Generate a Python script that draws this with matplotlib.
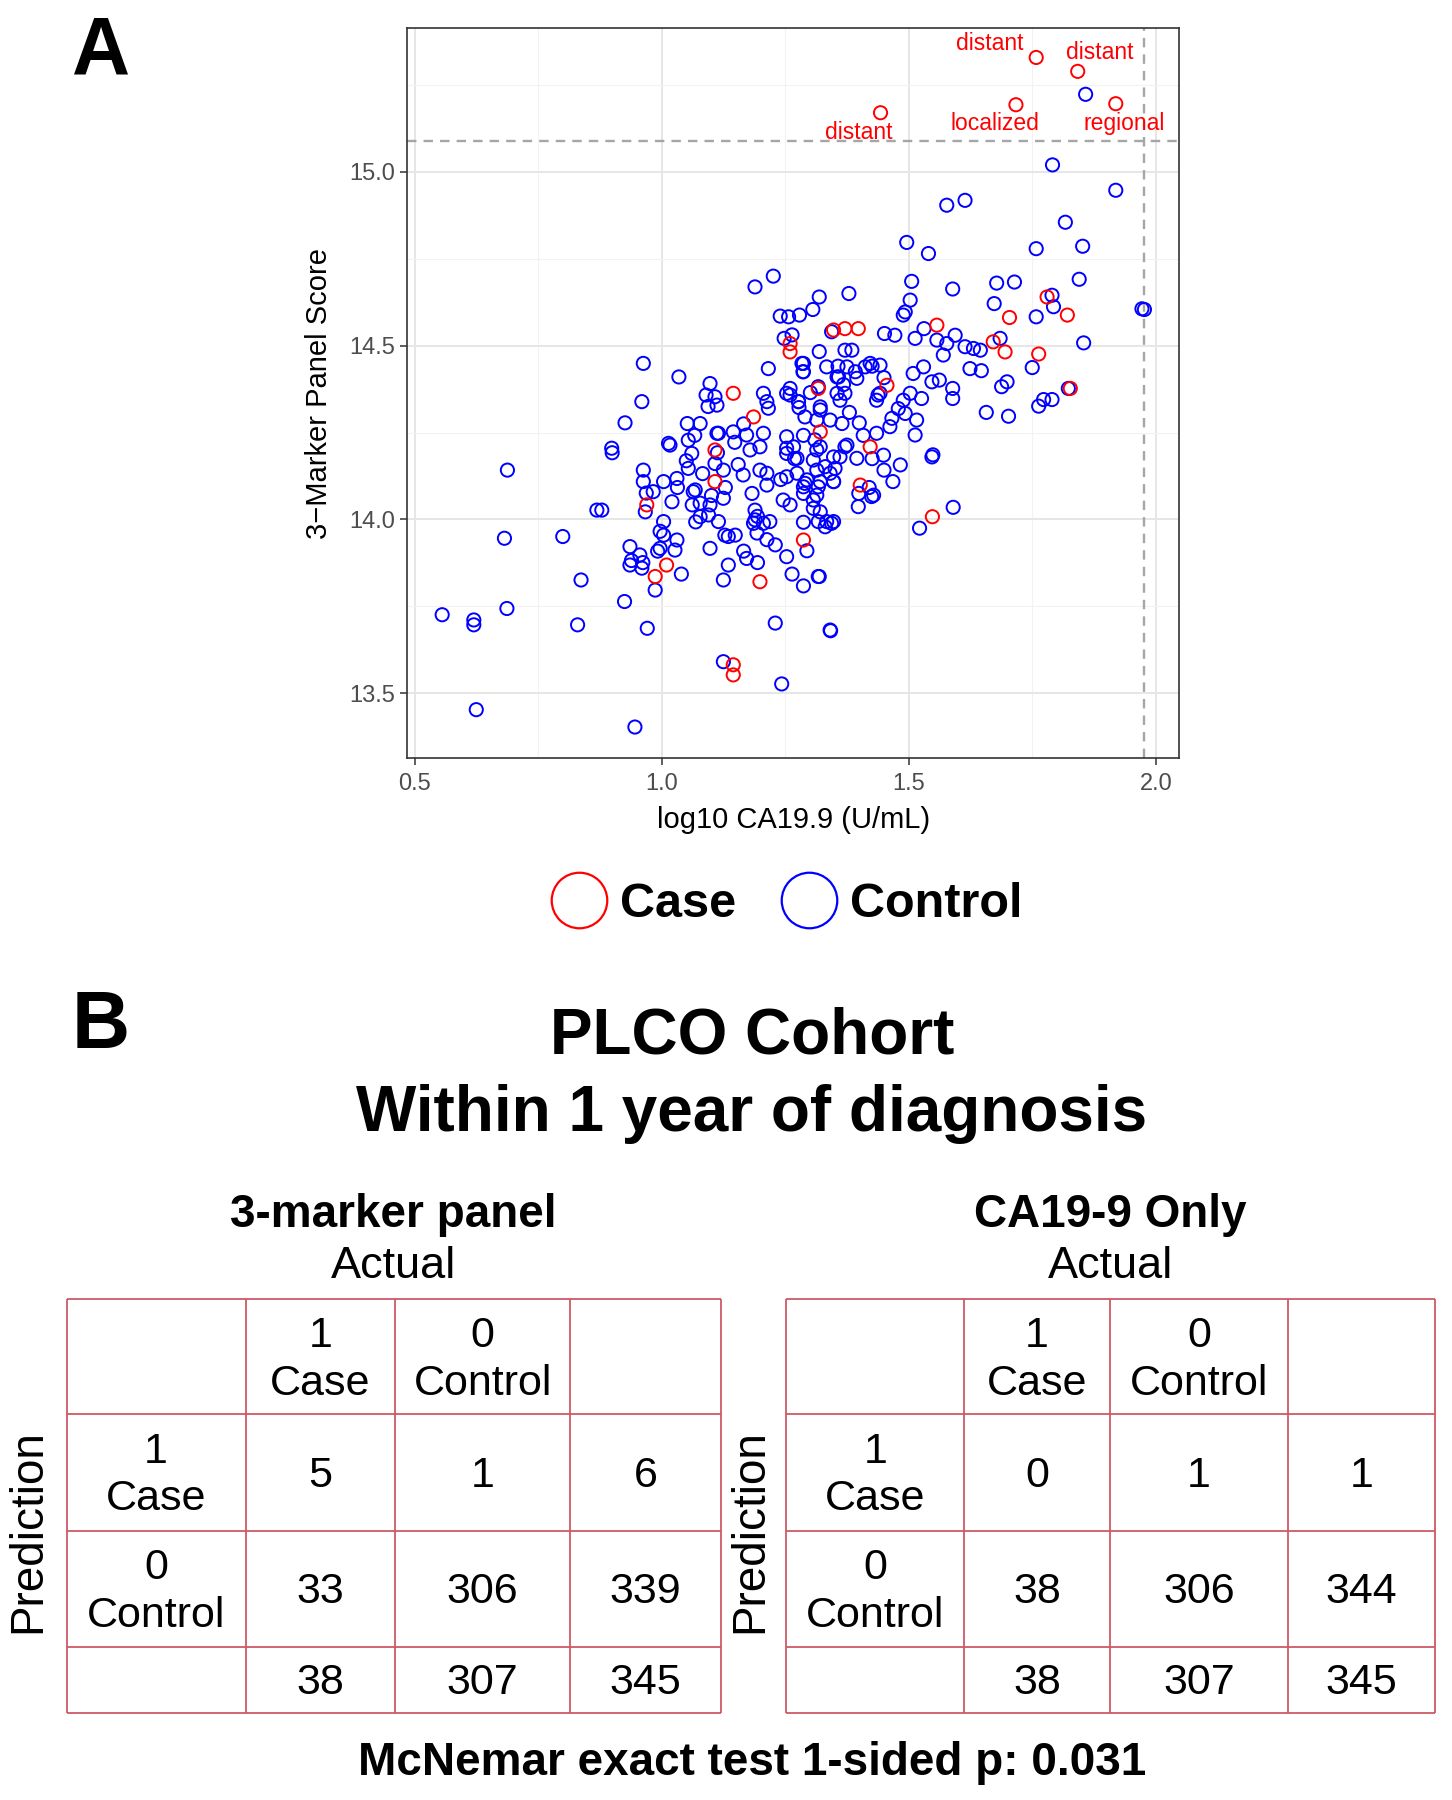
import numpy as np
import matplotlib.pyplot as plt
from matplotlib.lines import Line2D

plt.rcParams['font.family'] = ['Liberation Sans', 'DejaVu Sans']

# ---- panel A data (log10 CA19.9, 3-marker score) ----
case_x = [1.758, 1.842, 1.443, 1.717, 1.919, 1.780, 1.821, 1.704, 1.557, 1.371,
          1.398, 1.348, 1.260, 1.260, 1.671, 1.695, 1.763, 1.827, 1.317, 1.456,
          1.145, 1.186, 1.422, 1.321, 1.402, 1.108, 1.108, 0.970, 1.010, 0.987,
          1.199, 1.287, 1.548, 1.145, 1.145]
case_y = [15.329, 15.289, 15.170, 15.193, 15.196, 14.640, 14.588, 14.581, 14.559, 14.549,
          14.549, 14.545, 14.506, 14.482, 14.511, 14.482, 14.476, 14.377, 14.377, 14.386,
          14.363, 14.295, 14.209, 14.252, 14.099, 14.200, 14.109, 14.042, 13.869, 13.836,
          13.821, 13.941, 14.008, 13.582, 13.553]

ctrl_pts = [
    # upper / right
    (1.858, 15.223), (1.791, 15.020), (1.919, 14.947), (1.577, 14.904), (1.614, 14.918),
    (1.817, 14.855), (1.758, 14.779), (1.852, 14.786), (1.496, 14.797), (1.540, 14.765),
    (1.845, 14.691), (1.678, 14.680), (1.714, 14.683), (1.506, 14.685), (1.589, 14.663),
    (1.379, 14.650), (1.319, 14.640), (1.306, 14.604), (1.279, 14.588), (1.257, 14.583),
    (1.240, 14.585), (1.189, 14.669), (1.226, 14.700), (1.673, 14.621), (1.790, 14.645),
    (1.793, 14.612), (1.758, 14.583), (1.977, 14.604), (1.972, 14.606), (1.503, 14.631),
    (1.489, 14.588), (1.493, 14.597), (1.531, 14.549), (1.513, 14.521), (1.451, 14.535),
    (1.472, 14.530), (1.344, 14.540), (1.319, 14.483), (1.385, 14.487), (1.371, 14.487),
    (1.557, 14.516), (1.577, 14.506), (1.594, 14.530), (1.570, 14.473), (1.614, 14.497),
    (1.631, 14.492), (1.645, 14.487), (1.685, 14.521), (1.750, 14.437), (1.854, 14.508),
    (1.699, 14.396), (1.688, 14.382), (1.773, 14.345), (1.763, 14.326), (1.790, 14.345),
    (1.823, 14.377), (1.657, 14.308), (1.702, 14.297), (1.530, 14.439), (1.509, 14.420),
    (1.547, 14.396), (1.562, 14.401), (1.624, 14.434), (1.647, 14.428), (1.589, 14.377),
    (1.589, 14.348), (1.526, 14.348), (1.503, 14.363), (1.489, 14.343), (1.479, 14.319),
    (1.466, 14.291), (1.462, 14.267), (1.493, 14.305), (1.516, 14.286), (1.513, 14.243),
    (1.547, 14.180), (1.549, 14.186), (1.483, 14.157), (1.449, 14.185), (1.435, 14.248),
    (1.400, 14.278), (1.375, 14.214), (1.395, 14.176), (1.429, 14.070), (1.442, 14.363),
    (1.435, 14.343), (1.395, 14.406), (1.375, 14.439), (1.355, 14.410), (1.422, 14.449),
    (1.442, 14.444), (1.412, 14.439), (1.287, 14.449), (1.287, 14.425), (1.260, 14.358),
    (1.277, 14.339), (1.355, 14.363), (1.371, 14.363), (1.361, 14.343), (1.290, 14.295),
    (1.321, 14.315), (1.314, 14.286), (1.341, 14.286), (1.365, 14.276), (1.253, 14.238),
    (1.267, 14.209), (1.274, 14.176), (1.253, 14.190), (1.321, 14.209), (1.307, 14.171),
    (1.331, 14.152), (1.351, 14.147), (1.348, 14.180), (1.371, 14.209), (1.290, 14.104),
    (1.317, 14.094), (1.348, 14.109), (1.287, 14.075), (1.314, 14.070), (1.590, 14.035),
    (1.522, 13.975), (1.319, 13.836), (1.342, 13.680), (1.243, 13.527), (1.294, 13.910),
    (1.253, 13.893), (1.398, 14.037), (1.425, 14.066), (1.317, 13.994), (1.344, 13.989),
    (1.331, 13.979), (1.321, 14.022), (1.307, 14.056), (1.260, 14.042), (1.287, 14.094),
    (1.321, 14.109), (1.348, 14.109),
    # left / middle
    (0.556, 13.726), (0.620, 13.711), (0.620, 13.697), (0.625, 13.453), (0.688, 14.142),
    (0.682, 13.946), (0.687, 13.744), (0.800, 13.951), (0.837, 13.826), (0.830, 13.697),
    (0.869, 14.027), (0.900, 14.192), (0.925, 13.764), (0.946, 13.403), (0.971, 13.687),
    (0.926, 14.278), (0.963, 14.449), (0.960, 14.339), (1.035, 14.410), (1.098, 14.391),
    (1.108, 14.353), (1.112, 14.329), (1.216, 14.434), (1.206, 14.363), (1.213, 14.339),
    (1.216, 14.320), (1.253, 14.363), (1.277, 14.339), (1.260, 14.377), (1.284, 14.449),
    (1.286, 14.425), (1.052, 14.276), (1.078, 14.276), (1.014, 14.219), (1.054, 14.228),
    (0.899, 14.205), (0.879, 14.027), (0.963, 14.142), (0.963, 14.109), (0.983, 14.080),
    (1.004, 14.109), (1.031, 14.118), (1.054, 14.147), (0.967, 14.022), (1.021, 14.051),
    (1.004, 13.994), (1.004, 13.955), (1.031, 13.941), (1.027, 13.912), (0.997, 13.917),
    (0.936, 13.922), (0.956, 13.898), (0.936, 13.869), (0.960, 13.860), (0.987, 13.797),
    (1.061, 14.190), (1.017, 14.214), (1.068, 14.085), (1.078, 14.047), (1.078, 14.008),
    (1.108, 14.161), (1.098, 14.042), (1.125, 14.061), (1.095, 14.013), (1.115, 13.994),
    (1.128, 13.955), (1.149, 13.955), (1.098, 13.917), (1.135, 13.869), (1.125, 13.826),
    (1.172, 13.888), (1.189, 14.027), (1.189, 13.999), (1.219, 13.994), (1.193, 13.961),
    (1.206, 13.989), (1.186, 13.989), (1.230, 13.927), (1.317, 13.836), (1.230, 13.702),
    (1.341, 13.682), (1.125, 13.591), (1.064, 14.080), (1.135, 13.951),
    # dense core
    (1.165, 14.128), (1.213, 14.133), (1.213, 14.099), (1.179, 14.200), (1.199, 14.209),
    (1.246, 14.056), (1.253, 14.123), (1.274, 14.133), (1.294, 14.114), (1.314, 14.142),
    (1.341, 14.133), (1.334, 13.994), (1.348, 13.994), (1.307, 14.032), (1.253, 14.205),
    (1.314, 14.200), (1.361, 14.180), (1.067, 14.242), (1.050, 14.169), (1.083, 14.132),
    (1.090, 14.358), (1.094, 14.325), (1.115, 14.248), (1.113, 14.192), (1.125, 14.142),
    (1.129, 14.092), (1.101, 14.069), (1.069, 13.993), (1.148, 14.222), (1.166, 14.275),
    (1.155, 14.158), (1.183, 14.075), (1.199, 14.142), (1.248, 14.521), (1.264, 14.531),
    (1.278, 14.322), (1.301, 14.365), (1.287, 14.242), (1.310, 14.229), (1.269, 14.175),
    (1.241, 14.115), (1.287, 13.992), (1.357, 14.441), (1.368, 14.388), (1.392, 14.425),
    (1.426, 14.441), (1.438, 14.358), (1.450, 14.408), (1.380, 14.308), (1.408, 14.242),
    (1.426, 14.175), (1.450, 14.142), (1.468, 14.109), (1.399, 14.075), (1.420, 14.092),
    (1.194, 14.009), (1.213, 13.942), (1.166, 13.909), (1.194, 13.876), (1.264, 13.843),
    (1.287, 13.809), (1.040, 13.843), (0.992, 13.909), (0.962, 13.876), (0.939, 13.882),
    (0.997, 13.966), (0.969, 14.076), (1.032, 14.092), (1.062, 14.042), (1.334, 14.439),
    (1.358, 14.410), (1.321, 14.324), (1.112, 14.248), (1.145, 14.252), (1.172, 14.243),
    (1.206, 14.248), (1.317, 14.382),
]
ctrl_x, ctrl_y = np.array(ctrl_pts).T

stage_text = ['distant', 'distant', 'distant', 'localized', 'regional']
stage_x = [1.663, 1.886, 1.399, 1.675, 1.937]
stage_y = [15.369, 15.343, 15.113, 15.140, 15.140]

score_cut = 15.09
ca_cut = 1.976

# ---- panel B data ----
panel_counts = [[5, 1, 6], [33, 306, 339], [38, 307, 345]]
ca_counts = [[0, 1, 1], [38, 306, 344], [38, 307, 345]]
col_names = ['1\nCase', '0\nControl', '']
row_names = ['1\nCase', '0\nControl', '']

fig = plt.figure(figsize=(14.52, 18), dpi=100)

# overlay in pixel units for panel B text/tables
tab = fig.add_axes([0, 0, 1, 1])
tab.set_xlim(0, 1452)
tab.set_ylim(1800, 0)
tab.axis('off')

ax = fig.add_axes([0.2805, 0.5789, 0.5315, 0.4054])
ax.set_xlim(0.4854, 2.047)
ax.set_ylim(13.314, 15.413)
ax.set_xticks([0.5, 1.0, 1.5, 2.0])
ax.set_xticklabels(['0.5', '1.0', '1.5', '2.0'])
ax.set_yticks([13.5, 14.0, 14.5, 15.0])
ax.set_yticklabels(['13.5', '14.0', '14.5', '15.0'])
ax.set_xticks([0.75, 1.25, 1.75], minor=True)
ax.set_yticks([13.75, 14.25, 14.75, 15.25], minor=True)
ax.grid(which='major', color='#e6e6e6', lw=1.4)
ax.grid(which='minor', color='#f2f2f2', lw=0.8)
ax.set_axisbelow(True)
ax.tick_params(which='minor', length=0)
ax.tick_params(which='major', length=5, width=1.1, color='#333333',
               labelsize=17, labelcolor='#4d4d4d', pad=4)
ax.tick_params(axis='x', pad=6)
for s in ax.spines.values():
    s.set_color('#333333')
    s.set_linewidth(1.2)

ax.axhline(score_cut, color='#a6a6a6', ls=(0, (4, 3)), lw=1.7, zorder=1)
ax.axvline(ca_cut, color='#a6a6a6', ls=(0, (4, 3)), lw=1.7, zorder=1)

ax.scatter(ctrl_x, ctrl_y, s=90, facecolors='none', edgecolors='blue', linewidths=1.4, zorder=3)
ax.scatter(case_x, case_y, s=90, facecolors='none', edgecolors='red', linewidths=1.4, zorder=3)

for t, x, y in zip(stage_text, stage_x, stage_y):
    ax.text(x, y, t, color='red', fontsize=16.5, ha='center', va='center', zorder=4)

ax.set_xlabel('log10 CA19.9 (U/mL)', fontsize=21)
ax.set_ylabel('3\u2212Marker Panel Score', fontsize=21)
ax.xaxis.set_label_coords(0.5, -0.066)
ax.yaxis.set_label_coords(-0.096, 0.5)

handles = [Line2D([], [], ls='', marker='o', ms=40, mfc='none', mec='red', mew=1.6),
           Line2D([], [], ls='', marker='o', ms=40, mfc='none', mec='blue', mew=1.6)]
fig.legend(handles, ['Case', 'Control'], loc='center', bbox_to_anchor=(0.5415, 0.4975),
           ncol=2, frameon=False, prop=dict(weight='bold', size=35),
           handlelength=1.2, handletextpad=0.24, columnspacing=0.9)

fig.text(0.0695, 0.971, 'A', fontsize=58, weight='bold', ha='center', va='center')
fig.text(0.0695, 0.4293, 'B', fontsize=58, weight='bold', ha='center', va='center')

# ---- panel B ----
tab.text(752, 1036, 'PLCO Cohort', fontsize=46, weight='bold', ha='center', va='center')
tab.text(752, 1114, 'Within 1 year of diagnosis', fontsize=46, weight='bold',
         ha='center', va='center')

row_edges = [1299.3, 1414.1, 1531.1, 1647.1, 1712.5]
tables = [
    ('3-marker panel', panel_counts, [66.6, 245.6, 394.8, 570.4, 720.8], 28.7),
    ('CA19-9 Only', ca_counts, [786.2, 964.2, 1109.9, 1287.8, 1434.8], 750.7),
]
line_col = '#cc5a66'
for title, counts, cols, pred_x in tables:
    cx = (cols[0] + cols[-1]) / 2
    tab.text(cx, 1215, title, fontsize=33, weight='bold', ha='center', va='center')
    tab.text(cx, 1267, 'Actual', fontsize=32.5, ha='center', va='center')
    tab.hlines(row_edges, cols[0], cols[-1], color=line_col, lw=1.3)
    tab.vlines(cols, row_edges[0], row_edges[-1], color=line_col, lw=1.3)
    xc = [(cols[i] + cols[i + 1]) / 2 for i in range(4)]
    yc = [(row_edges[i] + row_edges[i + 1]) / 2 + 3 for i in range(4)]
    for j, name in enumerate(col_names):
        tab.text(xc[j + 1], yc[0], name, fontsize=31, ha='center', va='center',
                 linespacing=1.25)
    for i, name in enumerate(row_names):
        tab.text(xc[0], yc[i + 1], name, fontsize=31, ha='center', va='center',
                 linespacing=1.25)
        for j in range(3):
            tab.text(xc[j + 1], yc[i + 1], str(counts[i][j]), fontsize=31,
                     ha='center', va='center')
    tab.text(pred_x, (row_edges[1] + row_edges[3]) / 2, 'Prediction', fontsize=33,
             rotation=90, ha='center', va='center')

tab.text(752, 1763, 'McNemar exact test 1-sided p: 0.031', fontsize=33,
         weight='bold', ha='center', va='center')

fig.savefig('out.png', dpi=100)
